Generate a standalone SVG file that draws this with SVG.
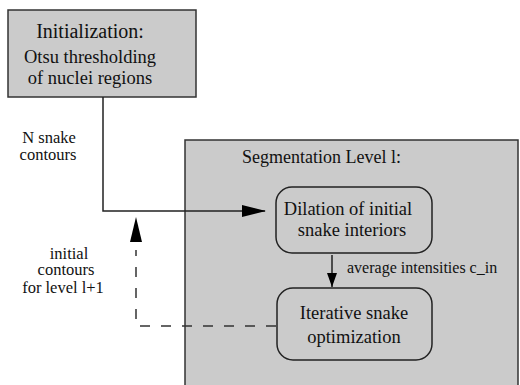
<svg xmlns="http://www.w3.org/2000/svg" width="520" height="385" viewBox="0 0 520 385">
<style>
.box{fill:#cbcbcb;stroke:#333;stroke-width:1.5}
.node{fill:#cbcbcb;stroke:#222;stroke-width:1.5}
.ln{fill:none;stroke:#222;stroke-width:1.5}
.dash{fill:none;stroke:#333;stroke-width:1.5;stroke-dasharray:10 11}
</style>
<defs>
<marker id="ah" markerWidth="24" markerHeight="12" refX="23" refY="6" orient="auto" markerUnits="userSpaceOnUse">
<path d="M0,0 L24,6 L0,12 Z" fill="#000"/>
</marker>
<marker id="ahs" markerWidth="14" markerHeight="10" refX="14" refY="5" orient="auto" markerUnits="userSpaceOnUse">
<path d="M0,0 L14,5 L0,10 Z" fill="#000"/>
</marker>
</defs>
<g id="init">
<rect class="box" x="8" y="10" width="188" height="87"/>
<text x="90" y="38" font-size="20" font-family="Liberation Serif" text-anchor="middle" fill="#111">Initialization:</text>
<text x="90" y="63" font-size="18.5" font-family="Liberation Serif" text-anchor="middle" fill="#111">Otsu thresholding</text>
<text x="90" y="84" font-size="18.5" font-family="Liberation Serif" text-anchor="middle" fill="#111">of nuclei regions</text>
</g>
<g id="seg">
<rect class="box" x="185" y="140" width="333" height="260"/>
<text x="242" y="163" font-size="18" font-family="Liberation Serif" fill="#111">Segmentation Level l:</text>
</g>
<g id="connectors">
<path class="ln" d="M103 97 V211 H265" marker-end="url(#ah)"/>
<path class="ln" d="M332 255 V287" marker-end="url(#ahs)"/>
<path class="dash" d="M276 326 H136 V250"/>
<path d="M130 242 L136 217 L142 242 Z" fill="#000"/>
</g>
<g id="dilation">
<rect class="node" x="276" y="187" width="156" height="66" rx="16"/>
<text x="348" y="215" font-size="18.5" font-family="Liberation Serif" text-anchor="middle" fill="#111">Dilation of initial</text>
<text x="352" y="236" font-size="18.5" font-family="Liberation Serif" text-anchor="middle" fill="#111">snake interiors</text>
</g>
<g id="iterative">
<rect class="node" x="277" y="288" width="155" height="72" rx="16"/>
<text x="354" y="319" font-size="18.5" font-family="Liberation Serif" text-anchor="middle" fill="#111">Iterative snake</text>
<text x="354" y="343" font-size="18.5" font-family="Liberation Serif" text-anchor="middle" fill="#111">optimization</text>
</g>
<g id="labels">
<text x="347" y="273" font-size="16" font-family="Liberation Serif" fill="#111">average intensities c_in</text>
<text x="49" y="143" font-size="16.5" font-family="Liberation Serif" text-anchor="middle" fill="#111">N snake</text>
<text x="48" y="160" font-size="16.5" font-family="Liberation Serif" text-anchor="middle" fill="#111">contours</text>
<text x="69" y="259" font-size="16.5" font-family="Liberation Serif" text-anchor="middle" fill="#111">initial</text>
<text x="66" y="275" font-size="16.5" font-family="Liberation Serif" text-anchor="middle" fill="#111">contours</text>
<text x="63" y="293" font-size="16.5" font-family="Liberation Serif" text-anchor="middle" fill="#111">for level l+1</text>
</g>
</svg>
